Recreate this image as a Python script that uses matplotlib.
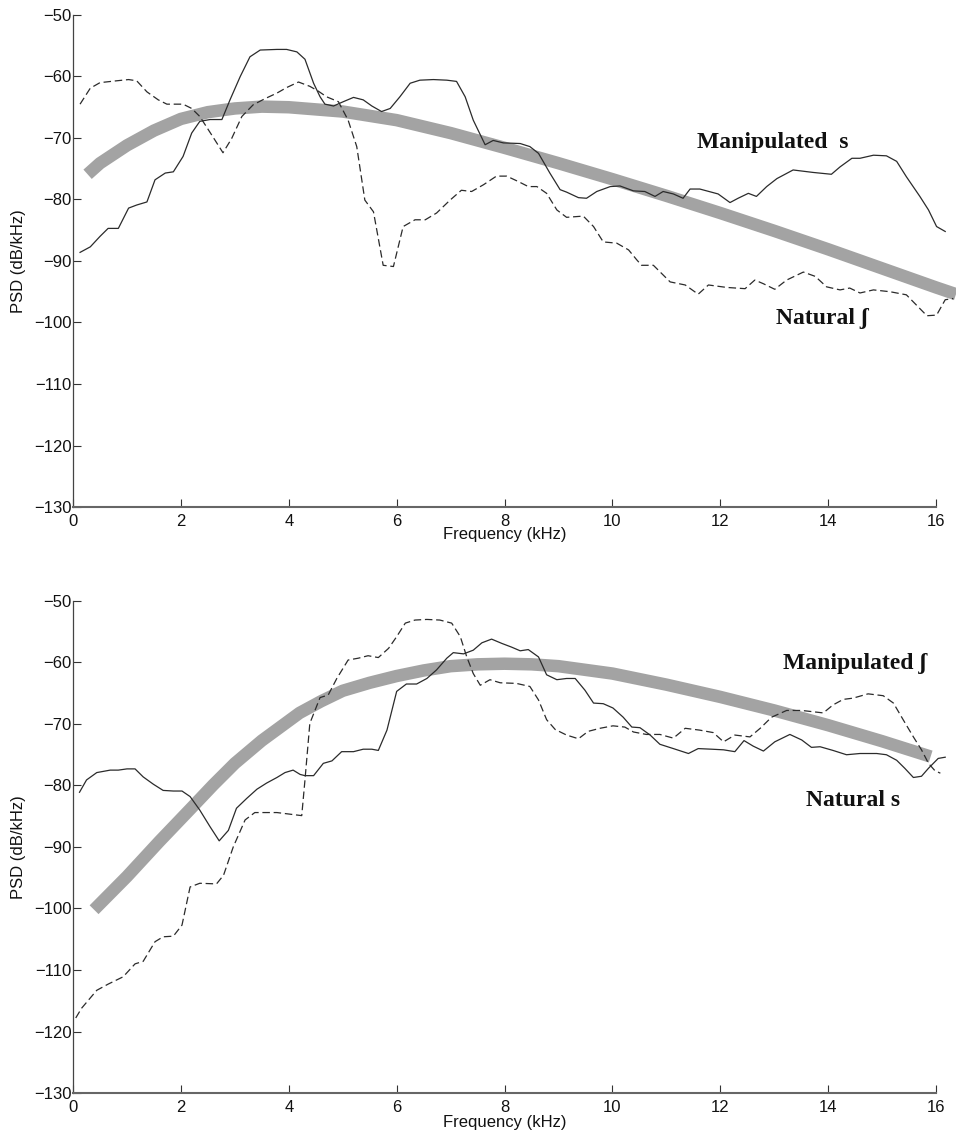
import matplotlib
matplotlib.use("Agg")
import matplotlib.pyplot as plt

# top panel: manipulated s (solid), natural sh (dashed), fitted trend (grey)
top_manip_x = [0.13, 0.32, 0.50, 0.65, 0.84, 1.03, 1.18, 1.37, 1.52, 1.71, 1.86, 2.04, 2.20, 2.35, 2.54,
               2.76, 2.91, 3.10, 3.28, 3.47, 3.78, 3.96, 4.15, 4.30, 4.46, 4.58, 4.67, 4.83, 5.01, 5.20,
               5.38, 5.54, 5.72, 5.88, 6.06, 6.25, 6.43, 6.68, 6.93, 7.11, 7.27, 7.42, 7.64, 7.79, 7.98,
               8.29, 8.47, 8.63, 8.84, 9.03, 9.15, 9.37, 9.52, 9.71, 9.96, 10.14, 10.39, 10.60, 10.79,
               10.94, 11.13, 11.31, 11.44, 11.62, 11.96, 12.18, 12.33, 12.52, 12.67, 12.86, 13.05, 13.35,
               13.72, 14.06, 14.22, 14.44, 14.59, 14.84, 15.08, 15.27, 15.45, 15.70, 15.86, 16.01, 16.17]
top_manip_y = [-88.6, -87.7, -86.0, -84.7, -84.7, -81.4, -80.9, -80.4, -76.8, -75.7, -75.5, -73.0, -69.2,
               -67.3, -67.0, -67.0, -63.8, -60.0, -56.8, -55.7, -55.6, -55.6, -56.0, -57.2, -61.1, -63.3,
               -64.5, -64.8, -64.1, -63.4, -63.8, -64.8, -65.7, -65.2, -63.3, -61.1, -60.6, -60.5, -60.6,
               -60.8, -63.3, -67.1, -71.1, -70.4, -70.8, -70.9, -71.4, -72.5, -75.7, -78.4, -78.8, -79.7,
               -79.8, -78.7, -77.9, -77.8, -78.6, -78.7, -79.5, -78.7, -79.1, -79.8, -78.3, -78.3, -79.1,
               -80.5, -79.8, -79.0, -79.5, -77.9, -76.6, -75.2, -75.6, -75.9, -74.7, -73.3, -73.3, -72.8,
               -72.9, -73.8, -76.3, -79.5, -81.7, -84.4, -85.2]

top_nat_x = [0.13, 0.32, 0.50, 0.81, 1.03, 1.18, 1.37, 1.58, 1.74, 2.04, 2.20, 2.35, 2.57, 2.78, 2.94,
             3.13, 3.34, 3.56, 3.78, 3.96, 4.18, 4.39, 4.55, 4.70, 4.92, 5.10, 5.26, 5.41, 5.57, 5.75,
             5.94, 6.12, 6.34, 6.53, 6.74, 6.99, 7.20, 7.39, 7.61, 7.85, 8.04, 8.26, 8.44, 8.60, 8.78,
             8.97, 9.15, 9.46, 9.65, 9.83, 10.08, 10.30, 10.45, 10.54, 10.76, 11.07, 11.35, 11.59, 11.78,
             12.12, 12.46, 12.64, 12.80, 13.01, 13.23, 13.54, 13.76, 13.97, 14.22, 14.40, 14.59, 14.84,
             15.15, 15.45, 15.64, 15.83, 16.01, 16.17, 16.32]
top_nat_y = [-64.5, -61.9, -61.0, -60.7, -60.5, -60.7, -62.5, -63.8, -64.5, -64.5, -65.2, -66.5, -69.5,
             -72.4, -70.1, -66.5, -64.6, -63.6, -62.7, -61.8, -60.9, -61.6, -62.4, -63.3, -64.1, -67.1,
             -71.4, -80.1, -82.0, -90.7, -90.9, -84.4, -83.3, -83.3, -82.2, -80.1, -78.5, -78.7, -77.6,
             -76.2, -76.2, -77.1, -77.9, -77.9, -79.0, -81.7, -82.9, -82.7, -84.4, -86.9, -87.1, -88.2,
             -89.8, -90.7, -90.7, -93.4, -93.9, -95.4, -93.9, -94.3, -94.5, -93.1, -93.7, -94.6, -93.1,
             -91.8, -92.5, -94.2, -94.7, -94.4, -95.2, -94.7, -95.0, -95.5, -97.2, -98.9, -98.8, -96.3,
             -96.1]

top_fit_x = [0.27, 0.5, 1.0, 1.5, 2.0, 2.5, 3.0, 3.5, 4.0, 5.0, 6.0, 7.0, 8.0, 9.0, 10.0, 11.0, 12.0,
             13.0, 14.0, 15.0, 16.0, 16.37]
top_fit_y = [-75.9, -74.1, -71.2, -68.8, -66.9, -65.8, -65.2, -64.9, -65.0, -65.7, -67.1, -69.2, -71.6,
             -74.1, -76.7, -79.4, -82.2, -85.1, -88.1, -91.2, -94.3, -95.4]

# bottom panel: natural s (solid), manipulated sh (dashed), fitted trend (grey)
bot_nat_x = [0.12, 0.25, 0.44, 0.69, 0.84, 1.00, 1.15, 1.30, 1.49, 1.67, 1.86, 2.02, 2.17, 2.35, 2.54,
             2.71, 2.88, 3.03, 3.22, 3.41, 3.59, 3.78, 3.93, 4.08, 4.21, 4.30, 4.46, 4.64, 4.80, 4.98,
             5.20, 5.38, 5.54, 5.66, 5.82, 6.00, 6.18, 6.37, 6.56, 6.74, 6.93, 7.05, 7.24, 7.42, 7.58,
             7.76, 7.95, 8.13, 8.29, 8.44, 8.63, 8.78, 8.97, 9.15, 9.31, 9.49, 9.65, 9.83, 10.01, 10.20,
             10.36, 10.51, 10.70, 10.88, 11.13, 11.41, 11.59, 11.84, 12.06, 12.27, 12.44, 12.61, 12.80,
             13.01, 13.29, 13.51, 13.69, 13.85, 14.09, 14.34, 14.59, 14.90, 15.08, 15.27, 15.42, 15.58,
             15.73, 15.86, 16.04, 16.17]
bot_nat_y = [-81.1, -79.1, -77.9, -77.5, -77.5, -77.3, -77.3, -78.6, -79.8, -80.8, -80.9, -80.9, -81.8,
             -84.0, -86.7, -89.0, -87.3, -83.7, -82.1, -80.6, -79.6, -78.7, -77.9, -77.5, -78.2, -78.4,
             -78.4, -76.4, -76.0, -74.5, -74.5, -74.1, -74.1, -74.3, -71.0, -64.7, -63.5, -63.5, -62.6,
             -61.2, -59.3, -58.4, -58.6, -58.0, -56.8, -56.2, -56.9, -57.5, -58.1, -57.9, -59.1, -62.0,
             -62.8, -62.6, -62.6, -64.5, -66.6, -66.7, -67.4, -68.9, -70.5, -70.6, -71.8, -73.3, -74.0,
             -74.8, -74.0, -74.1, -74.2, -74.5, -72.7, -73.6, -74.4, -72.9, -71.7, -72.6, -73.8, -73.7,
             -74.3, -75.0, -74.8, -74.8, -75.0, -75.9, -77.2, -78.7, -78.5, -77.2, -75.6, -75.4]

bot_manip_x = [0.05, 0.16, 0.44, 0.65, 0.93, 1.15, 1.30, 1.52, 1.67, 1.86, 2.02, 2.17, 2.35, 2.66, 2.79,
               2.97, 3.19, 3.37, 3.78, 4.24, 4.30, 4.39, 4.58, 4.73, 4.89, 5.10, 5.29, 5.47, 5.66, 5.85,
               6.00, 6.16, 6.34, 6.56, 6.80, 7.02, 7.18, 7.30, 7.42, 7.55, 7.73, 7.92, 8.22, 8.47, 8.63,
               8.78, 8.94, 9.15, 9.37, 9.55, 9.77, 10.01, 10.23, 10.39, 10.63, 10.88, 11.13, 11.35, 11.62,
               11.87, 12.06, 12.27, 12.55, 12.74, 12.95, 13.23, 13.51, 13.91, 14.09, 14.28, 14.46, 14.74,
               15.02, 15.21, 15.39, 15.58, 15.73, 15.86, 15.98, 16.08]
bot_manip_y = [-117.8, -116.2, -113.3, -112.3, -111.1, -109.0, -108.6, -105.4, -104.6, -104.5, -102.7,
               -96.5, -95.9, -96.0, -94.6, -90.0, -85.6, -84.4, -84.4, -84.9, -79.1, -69.9, -65.7, -65.3,
               -62.6, -59.6, -59.3, -58.9, -59.2, -57.7, -55.8, -53.6, -53.1, -53.0, -53.1, -53.6, -55.8,
               -59.1, -61.8, -63.7, -62.8, -63.3, -63.4, -63.9, -66.1, -69.3, -70.9, -71.8, -72.4, -71.2,
               -70.7, -70.3, -70.5, -71.3, -71.7, -71.7, -72.3, -70.7, -71.0, -71.4, -72.9, -71.8, -72.1,
               -70.7, -68.9, -67.8, -67.8, -68.2, -66.9, -66.0, -65.8, -65.1, -65.4, -66.6, -69.3, -72.1,
               -74.2, -76.4, -77.6, -78.0]

bot_fit_x = [0.39, 1.0, 1.6, 2.2, 2.6, 3.0, 3.5, 4.2, 4.6, 5.0, 5.5, 6.0, 6.5, 7.0, 7.5, 8.0, 8.5, 9.0,
             10.0, 11.0, 12.0, 13.0, 14.0, 15.0, 15.9]
bot_fit_y = [-100.2, -94.8, -89.1, -83.6, -79.9, -76.4, -72.7, -68.2, -66.3, -64.6, -63.3, -62.2, -61.3,
             -60.6, -60.3, -60.2, -60.3, -60.6, -61.8, -63.6, -65.6, -67.8, -70.2, -72.8, -75.3]

x_ticks = [0, 2, 4, 6, 8, 10, 12, 14, 16]
y_ticks = [-130, -120, -110, -100, -90, -80, -70, -60, -50]

plt.rcParams['font.family'] = ['Liberation Sans', 'DejaVu Sans']
lbl_font = dict(family=['Liberation Serif', 'DejaVu Serif'], fontweight='bold', fontsize=17, color='#111111')

fig = plt.figure(figsize=(9.56, 11.35), dpi=100)
ax1 = fig.add_axes([0.0764, 0.5533, 0.9236, 0.4335])
ax2 = fig.add_axes([0.0764, 0.0370, 0.9236, 0.4335])


def style(ax, xlab_y):
    ax.set_xlim(0, 16.37)
    ax.set_ylim(-130, -50)
    ax.set_xticks(x_ticks)
    ax.set_yticks(y_ticks)
    ax.set_yticklabels(['\u2212' + str(abs(v)) for v in y_ticks])
    ax.spines['top'].set_visible(False)
    ax.spines['right'].set_visible(False)
    ax.spines['bottom'].set_bounds(0, 16)
    ax.spines['left'].set_color('#444444')
    ax.spines['left'].set_linewidth(0.9)
    ax.spines['bottom'].set_color('#666666')
    ax.spines['bottom'].set_linewidth(1.5)
    ax.tick_params(direction='in', length=6, width=0.8, color='#333333', labelsize=12, labelcolor='#111111')
    ax.tick_params(axis='x', pad=5)
    ax.tick_params(axis='y', pad=1)
    ax.set_xlabel('Frequency (kHz)', fontsize=12, color='#111111')
    ax.set_ylabel('PSD (dB/kHz)', fontsize=12, color='#111111')
    ax.xaxis.set_label_coords(8 / 16.37, xlab_y)
    ax.yaxis.set_label_coords(-0.053, 0.5)


style(ax1, -0.041)
ax1.plot(top_fit_x, top_fit_y, color='#a3a3a3', lw=9, solid_capstyle='butt', solid_joinstyle='round', zorder=1)
ax1.plot(top_manip_x, top_manip_y, color='#2b2b2b', lw=0.9, zorder=3, clip_on=False)
ax1.plot(top_nat_x, top_nat_y, color='#2b2b2b', lw=0.9, dashes=(6, 3), zorder=3, clip_on=False)
ax1.text(11.57, -70.8, 'Manipulated  s', va='center', ha='left', **lbl_font)
ax1.text(13.03, -99.3, 'Natural \u0283', va='center', ha='left', **lbl_font)

style(ax2, -0.045)
ax2.plot(bot_fit_x, bot_fit_y, color='#a3a3a3', lw=9, solid_capstyle='butt', solid_joinstyle='round', zorder=1)
ax2.plot(bot_nat_x, bot_nat_y, color='#2b2b2b', lw=0.9, zorder=3, clip_on=False)
ax2.plot(bot_manip_x, bot_manip_y, color='#2b2b2b', lw=0.9, dashes=(6, 3), zorder=3, clip_on=False)
ax2.text(13.16, -60.1, 'Manipulated \u0283', va='center', ha='left', **lbl_font)
ax2.text(13.59, -82.4, 'Natural s', va='center', ha='left', **lbl_font)

fig.savefig('out.png', dpi=100, facecolor='white')
